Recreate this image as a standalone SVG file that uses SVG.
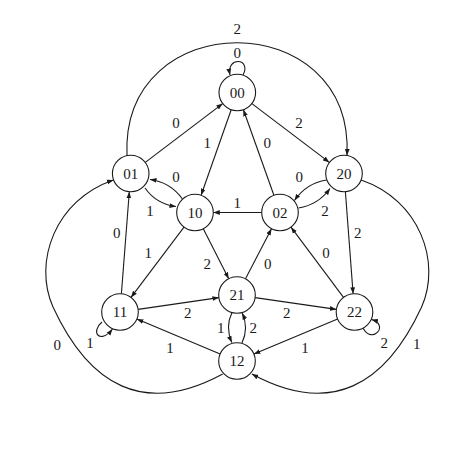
<svg xmlns="http://www.w3.org/2000/svg" width="474" height="474" viewBox="0 0 474 474">
<style>
.e{fill:none;stroke:#1a1a1a;stroke-width:1.1;marker-end:url(#a)}
.n circle{fill:#fff;stroke:#1a1a1a;stroke-width:1.1}
text{font-family:"Liberation Serif","DejaVu Serif",serif;font-size:15px;fill:#1a1a1a;text-anchor:middle;dominant-baseline:central}
</style>
<defs>
<marker id="a" markerUnits="userSpaceOnUse" markerWidth="7" markerHeight="6" viewBox="0 0 7 6" refX="6.5" refY="3" orient="auto"><path d="M0,0.6 L6.5,3 L0,5.4 z" fill="#1a1a1a"/></marker>
</defs>
<rect width="474" height="474" fill="#fff"/>
<g id="connectors">
<path class="e" d="M145.3,162.4 L222.7,103.6"/>
<path class="e" d="M251.9,103.6 L329.4,162.4"/>
<path class="e" d="M231.2,109.8 L201.1,195.2"/>
<path class="e" d="M273.9,195.3 L243.4,109.7"/>
<path class="e" d="M261.7,212.5 L213.3,212.5"/>
<path class="e" d="M345.4,191.8 L353.1,293.8"/>
<path class="e" d="M184,227.1 L131,297.4"/>
<path class="e" d="M203.3,228.8 L228.7,278.7"/>
<path class="e" d="M245.5,278.8 L271.5,228.7"/>
<path class="e" d="M343.5,297.4 L291,227.2"/>
<path class="e" d="M121.4,293.8 L129.3,191.8"/>
<path class="e" d="M138.1,309.4 L218.9,297.6"/>
<path class="e" d="M255.1,297.6 L336.4,309.4"/>
<path class="e" d="M337.6,319 L253.9,354"/>
<path class="e" d="M220.1,353.9 L136.9,319.1"/>
<path class="e" d="M182.5,199 Q170,182 150,179.5"/>
<path class="e" d="M145,188 Q156.4,204.1 176,206.5"/>
<path class="e" d="M326.5,180 Q306.3,183.2 294.5,200.5"/>
<path class="e" d="M298.5,208 Q318.2,204.8 330,188.5"/>
<path class="e" d="M232,312.5 Q225,327 231.8,342.6"/>
<path class="e" d="M242,343 Q249,328 242.2,313"/>
<path class="e" d="M127,156 C120,5 354,5 347,155.5"/>
<path class="e" d="M222.7,374 C143.5,417 89,385 53,307 C33,262 55,200 113.5,180"/>
<path class="e" d="M361.1,180 C419.6,200 441.6,262 421.6,307 C385.6,385 331.1,417 251.9,374"/>
<path class="e" d="M243,75 C252,58 226,56 230,75"/>
<path class="e" d="M102,322 C90,332 100,345 112.5,329"/>
<path class="e" d="M363,328 C372,345 390,325 371.5,319.5"/>
<text x="176" y="122.7">0</text>
<text x="207.3" y="143.3">1</text>
<text x="267.3" y="142.7">0</text>
<text x="299" y="122.7">2</text>
<text x="237.3" y="52.7">0</text>
<text x="237.3" y="29.3">2</text>
<text x="176" y="176.7">0</text>
<text x="150" y="211">1</text>
<text x="299.3" y="176.7">0</text>
<text x="325" y="210.7">2</text>
<text x="237.3" y="203.3">1</text>
<text x="116.7" y="233.3">0</text>
<text x="148.3" y="253.3">1</text>
<text x="207.3" y="264">2</text>
<text x="357.7" y="232.7">2</text>
<text x="326" y="252.7">0</text>
<text x="267.7" y="264">0</text>
<text x="187.7" y="313.3">2</text>
<text x="286.7" y="313.3">2</text>
<text x="170" y="347.7">1</text>
<text x="305" y="347.7">1</text>
<text x="220.7" y="328.3">1</text>
<text x="253.3" y="328.3">2</text>
<text x="90" y="343.3">1</text>
<text x="384.3" y="343.3">2</text>
<text x="57.3" y="345">0</text>
<text x="416.7" y="344.3">1</text>
</g>
<g id="n00" class="n"><circle cx="237.3" cy="92.5" r="18.3"/><text x="237.3" y="92.5">00</text></g>
<g id="n01" class="n"><circle cx="130.7" cy="173.5" r="18.3"/><text x="130.7" y="173.5">01</text></g>
<g id="n20" class="n"><circle cx="344" cy="173.5" r="18.3"/><text x="344" y="173.5">20</text></g>
<g id="n10" class="n"><circle cx="195" cy="212.5" r="18.3"/><text x="195" y="212.5">10</text></g>
<g id="n02" class="n"><circle cx="280" cy="212.5" r="18.3"/><text x="280" y="212.5">02</text></g>
<g id="n11" class="n"><circle cx="120" cy="312" r="18.3"/><text x="120" y="312">11</text></g>
<g id="n21" class="n"><circle cx="237" cy="295" r="18.3"/><text x="237" y="295">21</text></g>
<g id="n22" class="n"><circle cx="354.5" cy="312" r="18.3"/><text x="354.5" y="312">22</text></g>
<g id="n12" class="n"><circle cx="237" cy="361" r="18.3"/><text x="237" y="361">12</text></g>
</svg>
